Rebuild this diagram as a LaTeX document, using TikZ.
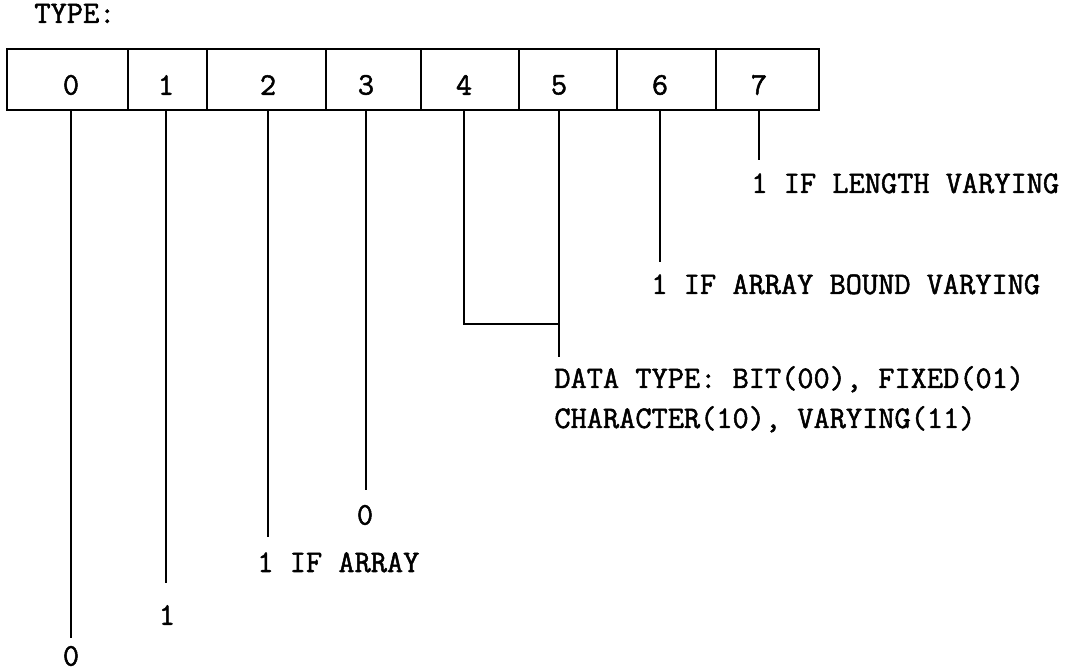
\documentclass[tikz,border=0pt]{standalone}
\usepackage{fontspec}
\newfontfamily\typewr{Latin Modern Mono}[FakeBold=1.6]
\usetikzlibrary{positioning, calc}

\begin{document}
\begin{tikzpicture}[x=0.02cm, y=-0.02cm, line width=1.6pt, font=\typewr\fontsize{17.9}{20}\selectfont,
  cell/.style={draw, minimum height=1.22cm, inner sep=0pt},
  bit/.style={inner sep=0pt},
  lbl/.style={anchor=base west, inner sep=0pt}]
  \useasboundingbox (0,0) rectangle (1075,671);
  \node[lbl] (title) at (33,23) {TYPE:};
  \foreach \n/\l/\r/\x in {0/7/128/71, 1/128/207/166, 2/207/326/268, 3/326/421/366, 4/421/519/464, 5/519/617/559, 6/617/716/660, 7/716/819/759}{
    \node[cell, minimum width={(\r-\l)*0.02cm}] (c\n) at ({(\l+\r)/2},79.5) {};
    \node[bit] (d\n) at (\x,85) {\n};
  }
  \coordinate (e0) at (71,638);  \node[bit] (v0) at (71,656) {0};
  \coordinate (e1) at (166,583); \node[bit] (v1) at (167,615) {1};
  \coordinate (e2) at (268,537); \node[lbl] (v2) at (256,572) {1 IF ARRAY};
  \coordinate (e3) at (366,490); \node[bit] (v3) at (365,515) {0};
  \coordinate (k4) at (559,324);
  \coordinate (e5) at (559,357); \node[lbl] (v5a) at (553,388) {DATA TYPE: BIT(00), FIXED(01)};
                                  \node[lbl] (v5b) at (553,428) {CHARACTER(10), VARYING(11)};
  \coordinate (e6) at (660,262); \node[lbl] (v6) at (650,294) {1 IF ARRAY BOUND VARYING};
  \coordinate (e7) at (759,160); \node[lbl] (v7) at (750,193) {1 IF LENGTH VARYING};
  \foreach \n in {0,1,2,3,5,6,7} \draw (c\n.south -| d\n) -- (e\n);
  \draw (c4.south -| d4) |- (k4);
\end{tikzpicture}
\end{document}
